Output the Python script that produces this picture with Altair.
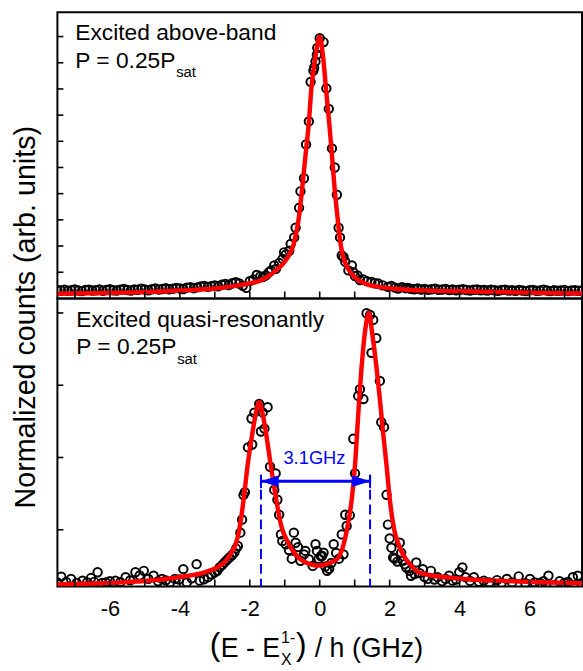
import altair as alt
import pandas as pd

FONT = "Liberation Sans"
RED = "#ff0000"
BLUE = "#0000ff"

# ---------------- data ----------------
# top panel: excited above-band, measured points
top_x = [-7.5, -7.4, -7.3, -7.2, -7.1, -7.0, -6.9, -6.8, -6.7, -6.6, -6.5, -6.4, -6.3, -6.2, -6.1,
         -6.0, -5.9, -5.8, -5.7, -5.6, -5.5, -5.4, -5.3, -5.2, -5.1, -5.0, -4.9, -4.8, -4.7, -4.6,
         -4.5, -4.4, -4.3, -4.2, -4.1, -4.0, -3.9, -3.8, -3.7, -3.6, -3.5, -3.4, -3.3, -3.2, -3.1,
         -3.0, -2.9, -2.8, -2.7, -2.6, -2.5, -2.4, -2.3, -2.2, -2.1, -2.0, -1.9, -1.8, -1.7,
         -1.62, -1.54, -1.45, -1.39, -1.30, -1.25, -1.16, -1.06, -1.02, -0.97, -0.87, -0.83, -0.73,
         -0.69, -0.59, -0.55, -0.45, -0.39, -0.31, -0.26, -0.18, -0.16, -0.12, -0.08, -0.07, 0.00,
         0.11, 0.19, 0.26, 0.35, 0.43, 0.49, 0.54, 0.58, 0.63, 0.68, 0.73, 0.82, 0.92, 0.96, 1.01,
         1.08, 1.15, 1.25, 1.35, 1.48, 1.58, 1.67, 1.80, 1.95, 2.05, 2.15, 2.24, 2.35, 2.45, 2.52,
         2.6, 2.7, 2.8, 2.9, 3.0, 3.1, 3.2, 3.3, 3.4, 3.5, 3.6, 3.7, 3.8, 3.9, 4.0, 4.1, 4.2, 4.3,
         4.4, 4.5, 4.6, 4.7, 4.8, 4.9, 5.0, 5.1, 5.2, 5.3, 5.4, 5.5, 5.6, 5.7, 5.8, 5.9, 6.0, 6.1,
         6.2, 6.3, 6.4, 6.5, 6.6, 6.7, 6.8, 6.9, 7.0, 7.1, 7.2, 7.3, 7.4, 7.5]
top_y = [0.032, 0.030, 0.033, 0.029, 0.031, 0.034, 0.030, 0.028, 0.032, 0.033, 0.030, 0.031, 0.034, 0.029, 0.032,
         0.035, 0.031, 0.030, 0.033, 0.036, 0.032, 0.030, 0.034, 0.033, 0.037, 0.034, 0.031, 0.035, 0.038, 0.034,
         0.036, 0.039, 0.035, 0.037, 0.040, 0.038, 0.036, 0.041, 0.043, 0.039, 0.042, 0.046, 0.048, 0.044, 0.047,
         0.050, 0.046, 0.052, 0.055, 0.051, 0.058, 0.062, 0.057, 0.048, 0.040, 0.066, 0.072, 0.090, 0.084,
         0.082, 0.088, 0.100, 0.107, 0.126, 0.113, 0.135, 0.151, 0.176, 0.168, 0.182, 0.208, 0.233,
         0.270, 0.346, 0.409, 0.459, 0.588, 0.676, 0.827, 0.870, 0.881, 0.905, 0.931, 0.957, 0.994,
         0.979, 0.802, 0.724, 0.573, 0.500, 0.396, 0.270, 0.233, 0.164, 0.158, 0.140, 0.107, 0.126, 0.100, 0.085,
         0.088, 0.070, 0.072, 0.066, 0.063, 0.058, 0.057, 0.050, 0.044, 0.048, 0.041, 0.038, 0.043, 0.039, 0.040,
         0.037, 0.035, 0.038, 0.034, 0.036, 0.033, 0.035, 0.037, 0.033, 0.034, 0.036, 0.032, 0.034, 0.031, 0.033, 0.035, 0.032, 0.030,
         0.033, 0.034, 0.031, 0.032, 0.030, 0.033, 0.031, 0.029, 0.032, 0.033, 0.030, 0.031, 0.029, 0.032, 0.030, 0.028, 0.031, 0.032,
         0.029, 0.030, 0.033, 0.030, 0.028, 0.031, 0.029, 0.030, 0.032, 0.028, 0.030, 0.031, 0.029, 0.030]

# top panel fit curve (sampled off the red line)
top_fit_x = [-7.5, -6.0, -5.0, -4.0, -3.0, -2.5, -2.0, -1.7, -1.5, -1.25, -1.0, -0.88, -0.75, -0.69,
             -0.61, -0.50, -0.405, -0.31, -0.24, -0.12, 0.0, 0.095, 0.18, 0.27, 0.35, 0.425, 0.52,
             0.57, 0.65, 0.75, 0.85, 1.1, 1.4, 1.7, 2.2, 2.8, 4.0, 5.5, 7.5]
top_fit_y = [0.018, 0.021, 0.024, 0.030, 0.038, 0.046, 0.058, 0.068, 0.082, 0.107, 0.140, 0.165, 0.205, 0.240,
             0.296, 0.421, 0.548, 0.673, 0.799, 0.925, 1.0, 0.925, 0.799, 0.673, 0.548, 0.421, 0.296,
             0.233, 0.170, 0.130, 0.105, 0.070, 0.052, 0.044, 0.036, 0.031, 0.027, 0.023, 0.019]

# bottom panel: excited quasi-resonantly, measured points
bot_x = [-7.50, -7.39, -7.25, -7.11, -6.95, -6.78, -6.65, -6.54, -6.45, -6.35, -6.22, -6.12, -6.00, -5.84,
         -5.70, -5.55, -5.42, -5.27, -5.15, -5.03, -4.90, -4.75, -4.62, -4.51, -4.40, -4.28, -4.14, -4.02,
         -3.90, -3.80, -3.66, -3.52, -3.43, -3.31, -3.19, -3.09, -3.00, -2.93, -2.86, -2.79, -2.72, -2.65,
         -2.58, -2.51, -2.44, -2.39, -2.34, -2.27, -2.22, -2.18, -2.14, -2.05, -1.93, -1.95, -1.87, -1.73,
         -1.68, -1.63, -1.58, -1.49, -1.42, -1.30, -1.26, -1.21, -1.16, -1.11, -1.07, -0.97, -0.88, -0.80,
         -0.74, -0.69, -0.62, -0.55, -0.45, -0.41, -0.31, -0.20, -0.12, -0.08, -0.03, 0.03, 0.07, 0.11,
         0.16, 0.21, 0.27, 0.33, 0.40, 0.47, 0.55, 0.63, 0.68, 0.73, 0.77, 0.86, 0.96, 1.01, 1.10, 1.15,
         1.25, 1.34, 1.44, 1.48, 1.53, 1.62, 1.72, 1.76, 1.84, 1.91, 1.95, 2.00, 2.05, 2.10, 2.14, 2.22,
         2.29, 2.33, 2.38, 2.43, 2.47, 2.57, 2.61, 2.71, 2.76, 2.86, 2.95, 3.00, 3.09, 3.18, 3.28, 3.37,
         3.50, 3.60, 3.70, 3.80, 3.90, 3.99, 4.08, 4.17, 4.30, 4.41, 4.55, 4.69, 4.85, 5.07, 5.20, 5.35,
         5.50, 5.69, 5.88, 6.01, 6.15, 6.30, 6.40, 6.54, 6.71, 6.86, 7.00, 7.10, 7.24, 7.38, 7.49]
bot_y = [0.068, 0.088, 0.070, 0.080, 0.066, 0.074, 0.068, 0.083, 0.070, 0.103, 0.066, 0.068, 0.072, 0.074,
         0.069, 0.086, 0.075, 0.103, 0.092, 0.108, 0.080, 0.091, 0.072, 0.080, 0.075, 0.068, 0.080, 0.078,
         0.114, 0.068, 0.082, 0.131, 0.074, 0.079, 0.086, 0.095, 0.103, 0.108, 0.120, 0.128, 0.137, 0.146,
         0.154, 0.162, 0.171, 0.185, 0.194, 0.240, 0.285, 0.370, 0.380, 0.535, 0.545, 0.635, 0.655, 0.685,
         0.590, 0.656, 0.600, 0.674, 0.468, 0.388, 0.445, 0.354, 0.302, 0.234, 0.211, 0.200, 0.180, 0.150,
         0.240, 0.205, 0.190, 0.143, 0.165, 0.177, 0.148, 0.125, 0.200, 0.177, 0.150, 0.159, 0.160, 0.171,
         0.123, 0.108, 0.115, 0.135, 0.200, 0.170, 0.150, 0.234, 0.165, 0.302, 0.263, 0.300, 0.565, 0.445, 0.713, 0.736,
         0.702, 0.999, 0.993, 0.862, 0.976, 0.913, 0.765, 0.622, 0.605, 0.371, 0.268, 0.220, 0.188, 0.154, 0.150, 0.140,
         0.205, 0.171, 0.143, 0.131, 0.120, 0.108, 0.091, 0.097, 0.137, 0.100, 0.114, 0.086, 0.080, 0.108, 0.078, 0.086,
         0.072, 0.080, 0.091, 0.074, 0.078, 0.103, 0.120, 0.086, 0.073, 0.086, 0.070, 0.074, 0.068, 0.076, 0.066, 0.080,
         0.068, 0.089, 0.065, 0.080, 0.068, 0.066, 0.072, 0.091, 0.059, 0.072, 0.066, 0.070, 0.086, 0.091, 0.062]

# bottom panel fit curve (sampled off the red line)
bot_fit_x = [-7.5, -6.5, -5.65, -4.7, -3.76, -3.29, -2.86, -2.67, -2.53, -2.39, -2.30, -2.17, -2.06,
             -1.92, -1.83, -1.73, -1.63, -1.54, -1.40, -1.25, -1.11, -0.88, -0.55, -0.30, -0.03, 0.25,
             0.49, 0.77, 0.92, 1.01, 1.10, 1.20, 1.29, 1.41, 1.50, 1.62, 1.72, 1.81, 1.91, 2.00, 2.14,
             2.24, 2.43, 2.52, 2.80, 3.0, 4.13, 5.54, 7.5]
bot_fit_y = [0.061, 0.064, 0.068, 0.076, 0.091, 0.103, 0.125, 0.145, 0.170, 0.205, 0.250, 0.360, 0.474,
             0.588, 0.650, 0.691, 0.650, 0.588, 0.474, 0.360, 0.268, 0.200, 0.148, 0.132, 0.126, 0.134,
             0.148, 0.245, 0.360, 0.474, 0.645, 0.816, 0.930, 1.0, 0.930, 0.816, 0.702, 0.588, 0.474, 0.360, 0.245,
             0.205, 0.154, 0.140, 0.105, 0.097, 0.080, 0.072, 0.065]

# axes / annotation values
x_ticks = [-7, -6, -5, -4, -3, -2, -1, 0, 1, 2, 3, 4, 5, 6, 7]
top_y_ticks = [0.1, 0.2, 0.3, 0.4, 0.5, 0.6, 0.7, 0.8, 0.9, 1.0]
bot_y_ticks = [0.25, 0.5, 0.75, 1.0]
peak_positions = [-1.68, 1.44]
arrow_level = 0.418
arrow_bar_top = 0.440
arrow_bar_bottom = 0.394
split_label = "3.1GHz"
split_label_x = -0.15
split_label_y = 0.477

# ---------------- layout ----------------
W = 530
H_TOP = 289
H_BOT = 291
X_DOMAIN = [-7.5, 7.5]
TOP_DOMAIN = [0.0, 1.0925]
BOT_DOMAIN = [0.054, 1.0503]

xscale = alt.Scale(domain=X_DOMAIN, nice=False, zero=False)


def text_layer(txt, px, py, size, color="black", align="left", baseline="alphabetic"):
    return alt.Chart(pd.DataFrame({"t": [txt]})).mark_text(
        font=FONT, fontSize=size, color=color, align=align, baseline=baseline
    ).encode(x=alt.value(px), y=alt.value(py), text="t:N")


def panel(px_, py_, fx, fy, ydomain, yticks, height, xaxis, yaxis):
    X = alt.X("x:Q", scale=xscale, axis=xaxis)
    Y = alt.Y("y:Q", scale=alt.Scale(domain=ydomain, nice=False, zero=False), axis=yaxis)
    pts = alt.Chart(pd.DataFrame({"x": px_, "y": py_})).mark_point(
        shape="circle", filled=False, color="black", size=72, strokeWidth=2, opacity=1, clip=True
    ).encode(x=X, y=Y)
    fit = alt.Chart(pd.DataFrame({"x": fx, "y": fy})).mark_line(
        color=RED, strokeWidth=4.5, interpolate="monotone", clip=True
    ).encode(x=X, y=Y)
    xt = alt.Chart(pd.DataFrame({"x": x_ticks})).mark_rule(color="black", strokeWidth=1.6).encode(
        x=X, y=alt.value(height), y2=alt.value(height - 7))
    yt = alt.Chart(pd.DataFrame({"y": yticks})).mark_rule(color="black", strokeWidth=1.6).encode(
        y=Y, x=alt.value(0), x2=alt.value(6))
    return pts, fit, xt, yt, X, Y


# top panel
t_pts, t_fit, t_xt, t_yt, tX, tY = panel(
    top_x, top_y, top_fit_x, top_fit_y, TOP_DOMAIN, top_y_ticks, H_TOP,
    None,
    alt.Axis(title="Normalized counts (arb. units)", labels=False, ticks=False, domain=False, grid=False,
             titleFont=FONT, titleFontSize=29, titleFontWeight="normal", titleColor="black",
             titleAngle=270, titleX=-32, titleY=307.5, titleAlign="center", titleBaseline="middle"),
)
top = alt.layer(
    t_pts, t_fit, t_xt, t_yt,
    text_layer("Excited above-band", 18, 28, 23),
    text_layer("P = 0.25P", 18, 56, 23),
    text_layer("sat", 120, 65, 15),
).properties(width=W, height=H_TOP)

# bottom panel
b_pts, b_fit, b_xt, b_yt, bX, bY = panel(
    bot_x, bot_y, bot_fit_x, bot_fit_y, BOT_DOMAIN, bot_y_ticks, H_BOT,
    alt.Axis(values=x_ticks, labelExpr="datum.value % 2 == 0 ? toString(datum.value) : ''",
             ticks=False, tickSize=0, domain=False, grid=False, title=None,
             labelFont=FONT, labelFontSize=22, labelColor="black", labelPadding=12),
    None,
)

peaks_df = pd.DataFrame({"x": peak_positions,
                         "y": [arrow_bar_top] * 2,
                         "y2": [arrow_bar_bottom] * 2})
dashed = alt.Chart(peaks_df).mark_rule(color=BLUE, strokeWidth=2, strokeDash=[10, 5]).encode(
    x=bX, y=bY, y2=alt.value(H_BOT))
bars = alt.Chart(peaks_df).mark_rule(color=BLUE, strokeWidth=2).encode(
    x=bX, y=bY, y2="y2:Q")
shaft = alt.Chart(pd.DataFrame({"x": [peak_positions[0]], "x2": [peak_positions[1]], "y": [arrow_level]})).mark_rule(
    color=BLUE, strokeWidth=3).encode(x=bX, x2="x2:Q", y=bY)
head_l = alt.Chart(pd.DataFrame({"x": [peak_positions[0]], "y": [arrow_level]})).mark_point(
    shape="M0,0L2,-0.65L2,0.65Z", size=324, filled=True, color=BLUE, opacity=1, strokeWidth=0).encode(x=bX, y=bY)
head_r = alt.Chart(pd.DataFrame({"x": [peak_positions[1]], "y": [arrow_level]})).mark_point(
    shape="M0,0L-2,-0.65L-2,0.65Z", size=324, filled=True, color=BLUE, opacity=1, strokeWidth=0).encode(x=bX, y=bY)
split_txt = alt.Chart(pd.DataFrame({"x": [split_label_x], "y": [split_label_y], "t": [split_label]})).mark_text(
    font=FONT, fontSize=18.5, color=BLUE, align="center", baseline="alphabetic").encode(x=bX, y=bY, text="t:N")

# x-axis title with sub/superscripts (pixel offsets relative to the bottom plot)
xt0 = 210 - 56
base = 660 - 298
bottom = alt.layer(
    b_pts, b_fit, dashed, bars, shaft, head_l, head_r, split_txt, b_xt, b_yt,
    text_layer("Excited quasi-resonantly", 19, 29, 23),
    text_layer("P = 0.25P", 19, 56.5, 23),
    text_layer("sat", 121, 66, 15),
    text_layer("(", xt0, base - 2, 32),
    text_layer("E - E", xt0 + 11, base, 27),
    text_layer("1-", xt0 + 72, base - 14, 16),
    text_layer("X", xt0 + 72, base + 8, 16),
    text_layer(")", xt0 + 87, base - 2, 32),
    text_layer("/ h (GHz)", xt0 + 106, base, 27),
).properties(width=W, height=H_BOT)

chart = alt.vconcat(top, bottom, spacing=0, bounds="flush").properties(
    padding={"left": 10, "top": 8, "right": 0, "bottom": 4},
    background="white",
).configure_view(stroke="black", strokeWidth=2)

chart.save("out.html", embed_options={"renderer": "svg", "actions": False})
